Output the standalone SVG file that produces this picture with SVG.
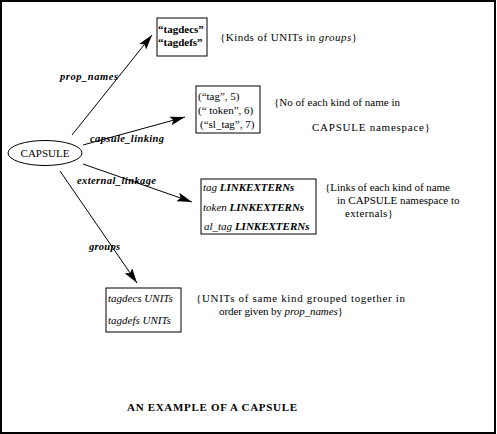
<svg xmlns="http://www.w3.org/2000/svg" width="497" height="434" viewBox="0 0 497 434">
<style>
text{font-family:"Liberation Serif","Times New Roman",serif;fill:#000;font-size:11px}
.box{fill:#fff;stroke:#000;stroke-width:1}
.edge{stroke:#000;stroke-width:1;fill:none;marker-end:url(#ah)}
.lbl{font-style:italic;font-weight:bold;font-size:10.5px}
.it{font-style:italic}
.b{font-weight:bold}
</style>
<defs>
<marker id="ah" markerUnits="userSpaceOnUse" markerWidth="16" markerHeight="10" refX="15" refY="4.5" orient="auto">
<path d="M0,0 L15,4.5 L0,9 L3,4.5 Z" fill="#000"/>
</marker>
</defs>
<rect x="1" y="1" width="494" height="432" fill="#fff" stroke="#000" stroke-width="2"/>
<g id="connectors">
<line class="edge" x1="72" y1="135" x2="152" y2="35"/>
<line class="edge" x1="83" y1="145" x2="185" y2="117"/>
<line class="edge" x1="83" y1="164" x2="192" y2="202"/>
<line class="edge" x1="60" y1="171" x2="137" y2="283"/>
<text class="lbl" x="60" y="80" textLength="58" lengthAdjust="spacing">prop_names</text>
<text class="lbl" x="90" y="142" textLength="74" lengthAdjust="spacing">capsule_linking</text>
<text class="lbl" x="77" y="184" textLength="79" lengthAdjust="spacing">external_linkage</text>
<text class="lbl" x="89" y="250" textLength="31" lengthAdjust="spacing">groups</text>
</g>
<g id="capsule">
<ellipse cx="45" cy="153" rx="37" ry="12.5" fill="#fff" stroke="#000" stroke-width="1"/>
<text x="45" y="157" text-anchor="middle" font-size="12">CAPSULE</text>
</g>
<g id="prop-names">
<rect class="box" x="157" y="18" width="50" height="38"/>
<text class="b" x="158" y="33" font-size="10.5">“tagdecs”</text>
<text class="b" x="158" y="46" font-size="10.5">“tagdefs”</text>
<text x="220" y="41" textLength="137" lengthAdjust="spacing">{Kinds of UNITs in <tspan class="it">groups</tspan>}</text>
</g>
<g id="capsule-linking">
<rect class="box" x="196" y="86" width="64" height="47"/>
<text x="198" y="100">(“tag”, 5)</text>
<text x="198" y="114">(“ token”, 6)</text>
<text x="200" y="128">(“sl_tag”, 7)</text>
<text x="274" y="106" textLength="126" lengthAdjust="spacing">{No of each kind of name in</text>
<text x="312" y="131" textLength="118" lengthAdjust="spacing">CAPSULE namespace}</text>
</g>
<g id="external-linkage">
<rect class="box" x="201" y="179" width="115" height="55"/>
<text class="it" x="203" y="191" font-size="10.5">tag <tspan class="b">LINKEXTERNs</tspan></text>
<text class="it" x="203" y="211" font-size="10.5">token <tspan class="b">LINKEXTERNs</tspan></text>
<text class="it" x="204" y="230" font-size="10.5">al_tag <tspan class="b">LINKEXTERNs</tspan></text>
<text x="325" y="191" textLength="125" lengthAdjust="spacing">{Links of each kind of name</text>
<text x="337" y="204">in CAPSULE namespace to</text>
<text x="345" y="217" textLength="48" lengthAdjust="spacing">externals}</text>
</g>
<g id="groups">
<rect class="box" x="106" y="288" width="75" height="44"/>
<text class="it" x="108" y="302" font-size="10.5">tagdecs UNITs</text>
<text class="it" x="108" y="324" font-size="10.5">tagdefs UNITs</text>
<text x="196" y="302" textLength="209" lengthAdjust="spacing">{UNITs of same kind grouped together in</text>
<text x="219" y="315" textLength="124" lengthAdjust="spacing">order given by <tspan class="it">prop_names</tspan>}</text>
</g>
<text x="127" y="411" class="b" font-size="10.5" textLength="170" lengthAdjust="spacing">AN EXAMPLE OF A CAPSULE</text>
</svg>
